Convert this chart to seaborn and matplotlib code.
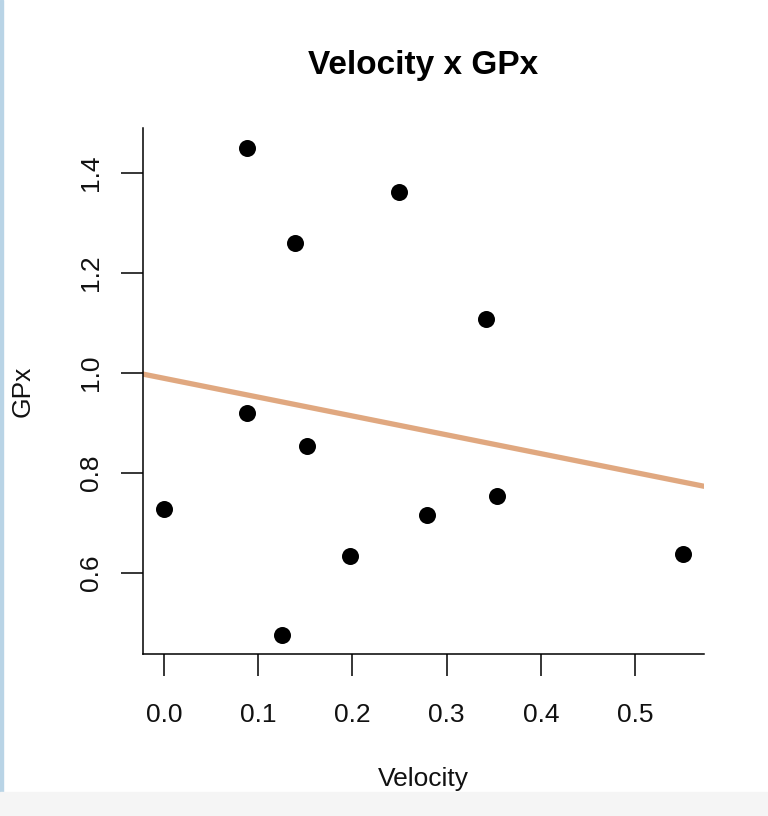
import seaborn as sns
import matplotlib.pyplot as plt
import pandas as pd
from matplotlib.patches import Rectangle

# Values
velocity = [0.000, 0.088, 0.088, 0.139, 0.125, 0.152, 0.197, 0.250, 0.279, 0.342, 0.353, 0.551]
gpx = [0.729, 1.451, 0.920, 1.261, 0.477, 0.854, 0.635, 1.363, 0.717, 1.108, 0.754, 0.639]
x_ticks = [0.0, 0.1, 0.2, 0.3, 0.4, 0.5]
y_ticks = [0.6, 0.8, 1.0, 1.2, 1.4]

df = pd.DataFrame({'Velocity': velocity, 'GPx': gpx})

sns.set_style('white')
plt.rcParams['font.family'] = ['Liberation Sans', 'DejaVu Sans']

fig = plt.figure(figsize=(7.68, 8.16), dpi=100)
ax = fig.add_axes([0.1862, 0.1985, 0.7305, 0.6446])

# R-style 4% padding around data range
xr = max(velocity) - min(velocity)
yr = max(gpx) - min(gpx)
xlim = (min(velocity) - 0.04 * xr, max(velocity) + 0.04 * xr)
ylim = (min(gpx) - 0.04 * yr, max(gpx) + 0.04 * yr)
ax.set_xlim(xlim)
ax.set_ylim(ylim)

sns.regplot(data=df, x='Velocity', y='GPx', ax=ax, ci=None, truncate=False,
            scatter_kws={'s': 150, 'color': 'black', 'alpha': 1,
                         'linewidths': 0, 'zorder': 3},
            line_kws={'color': '#E0A880', 'linewidth': 3.8, 'zorder': 2})
ax.set_xlim(xlim)
ax.set_ylim(ylim)

ax.set_xticks(x_ticks)
ax.set_xticklabels([f'{t:.1f}' for t in x_ticks])
ax.set_yticks(y_ticks)
ax.set_yticklabels([f'{t:.1f}' for t in y_ticks], rotation=90, va='center')

ax.tick_params(axis='both', direction='out', length=16, width=1.1,
               color='black', labelsize=19, labelcolor='#111111',
               bottom=True, left=True)
ax.tick_params(axis='x', pad=19)
ax.tick_params(axis='y', pad=13)

sns.despine(ax=ax)
for side in ['left', 'bottom']:
    ax.spines[side].set_linewidth(1.1)
    ax.spines[side].set_color('black')

ax.set_xlabel('Velocity', fontsize=19, labelpad=29, color='#111111')
ax.set_ylabel('GPx', fontsize=19, labelpad=32, color='#111111')
ax.set_title('Velocity x GPx', fontsize=24, fontweight='bold', pad=39, color='black')

# screenshot frame: thin blue strip on the left, grey band at the bottom
fig.patches.append(Rectangle((0, 0), 3 / 768, 1, transform=fig.transFigure,
                             color='#B9D4E6', zorder=-10))
fig.patches.append(Rectangle((0, 0), 1, 24 / 816, transform=fig.transFigure,
                             color='#F5F5F5', zorder=-10))

fig.savefig('out.png', dpi=100)
